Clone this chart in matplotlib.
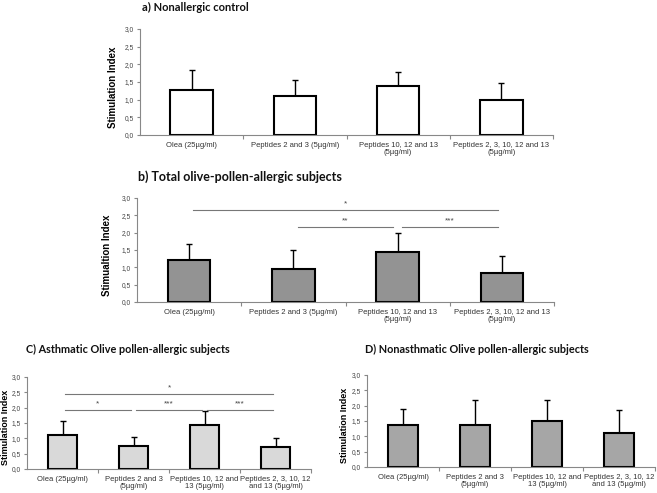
import numpy as np
import matplotlib
matplotlib.use("Agg")
import matplotlib.pyplot as plt
from matplotlib.ticker import FuncFormatter

# Datos
labels_ab = ["Olea (25µg/ml)", "Peptides 2 and 3 (5µg/ml)",
             "Peptides 10, 12 and 13\n(5µg/ml)", "Peptides 2, 3, 10, 12 and 13\n(5µg/ml)"]
labels_cd = ["Olea (25µg/ml)", "Peptides 2 and 3\n(5µg/ml)",
             "Peptides 10, 12 and\n13 (5µg/ml)", "Peptides 2, 3, 10, 12\nand 13 (5µg/ml)"]

mean_a = [1.27, 1.10, 1.40, 1.00]
err_a = [0.56, 0.47, 0.38, 0.47]
mean_b = [1.20, 0.94, 1.43, 0.83]
err_b = [0.46, 0.57, 0.55, 0.51]
mean_c = [1.12, 0.75, 1.42, 0.72]
err_c = [0.43, 0.29, 0.48, 0.30]
mean_d = [1.38, 1.38, 1.51, 1.11]
err_d = [0.50, 0.79, 0.68, 0.74]

# significancia: (i, j, altura, texto)
sig_b = [(0, 3, 2.64, "*"), (1, 2, 2.17, "**"), (2, 3, 2.17, "***")]
sig_c = [(0, 3, 2.45, "*"), (0, 1, 1.92, "*"), (1, 2, 1.92, "***"), (2, 3, 1.92, "***")]

W, H = 657, 493
fig = plt.figure(figsize=(W / 100, H / 100), dpi=100)

def px_axes(l, r, t, b):
    return fig.add_axes([l / W, 1 - b / H, (r - l) / W, (b - t) / H])

comma = FuncFormatter(lambda v, p: f"{v:.1f}".replace(".", ","))
tick_font = "Liberation Sans"
title_font = "Lato"

def panel(ax, means, errs, labels, color, ylabel, label_x, yfs):
    x = np.arange(len(means))
    ax.bar(x, means, width=0.41, color=color, edgecolor="black", linewidth=1.5, zorder=2)
    ax.errorbar(x, means, yerr=[np.zeros(len(errs)), errs], fmt="none",
                ecolor="black", elinewidth=1.0, capsize=2, capthick=1.0, zorder=1)
    ax.set_xlim(-0.5, len(means) - 0.5)
    ax.set_ylim(0, 3.0)
    ax.set_yticks(np.arange(0, 3.01, 0.5))
    ax.yaxis.set_major_formatter(comma)
    ax.set_xticks(x)
    ax.set_xticklabels(labels, fontsize=5.5, family=tick_font, color="#333333", linespacing=1.1)
    ax.set_xticks(np.arange(0.5, len(means), 1.0), minor=True)
    ax.tick_params(axis="x", which="major", length=0, pad=5)
    ax.tick_params(axis="x", which="minor", length=3, color="#888888", width=0.8)
    ax.tick_params(axis="y", length=2.5, color="#888888", width=0.8, labelsize=4.8, pad=2,
                   labelcolor="#444444")
    for t in ax.get_yticklabels():
        t.set_family(tick_font)
    for s in ["top", "right"]:
        ax.spines[s].set_visible(False)
    for s in ["left", "bottom"]:
        ax.spines[s].set_color("#888888")
        ax.spines[s].set_linewidth(0.8)
    ax.set_ylabel(ylabel, fontsize=yfs, fontweight="bold", family=tick_font)
    ax.yaxis.set_label_coords(label_x, 0.45)

def sig(ax, items, gap=0.04):
    for i, j, h, txt in items:
        ax.plot([i + gap, j - gap], [h, h], color="#777777", lw=0.8, zorder=3)
        ax.text((i + j) / 2, h + 0.08, txt, ha="center", va="bottom",
                fontsize=6, color="#444444", family=tick_font)

ax_a = px_axes(140, 553, 29, 135)
panel(ax_a, mean_a, err_a, labels_ab, "white", "Stimulation Index", -0.053, 7)
ax_b = px_axes(137, 554, 198, 302)
panel(ax_b, mean_b, err_b, labels_ab, "#939393", "Stimualtion Index", -0.06, 7)
sig(ax_b, sig_b)
ax_c = px_axes(27, 311, 377, 469)
panel(ax_c, mean_c, err_c, labels_cd, "#d9d9d9", "Stimulation Index", -0.06, 6.5)
sig(ax_c, sig_c)
ax_d = px_axes(367, 655, 375, 467)
panel(ax_d, mean_d, err_d, labels_cd, "#a6a6a6", "Stimulation Index", -0.0625, 6.5)

tkw = dict(fontweight="bold", family=title_font, va="center", ha="left", color="#111111")
fig.text(142 / W, 1 - 7 / H, "a) Nonallergic control", fontsize=8, **tkw)
fig.text(138 / W, 1 - 177 / H, "b) Total olive-pollen-allergic subjects", fontsize=9, **tkw)
fig.text(26 / W, 1 - 349 / H, "C) Asthmatic Olive pollen-allergic subjects", fontsize=7.8, **tkw)
fig.text(365 / W, 1 - 349 / H, "D) Nonasthmatic Olive pollen-allergic subjects", fontsize=7.8, **tkw)

fig.savefig("out.png", dpi=100)
